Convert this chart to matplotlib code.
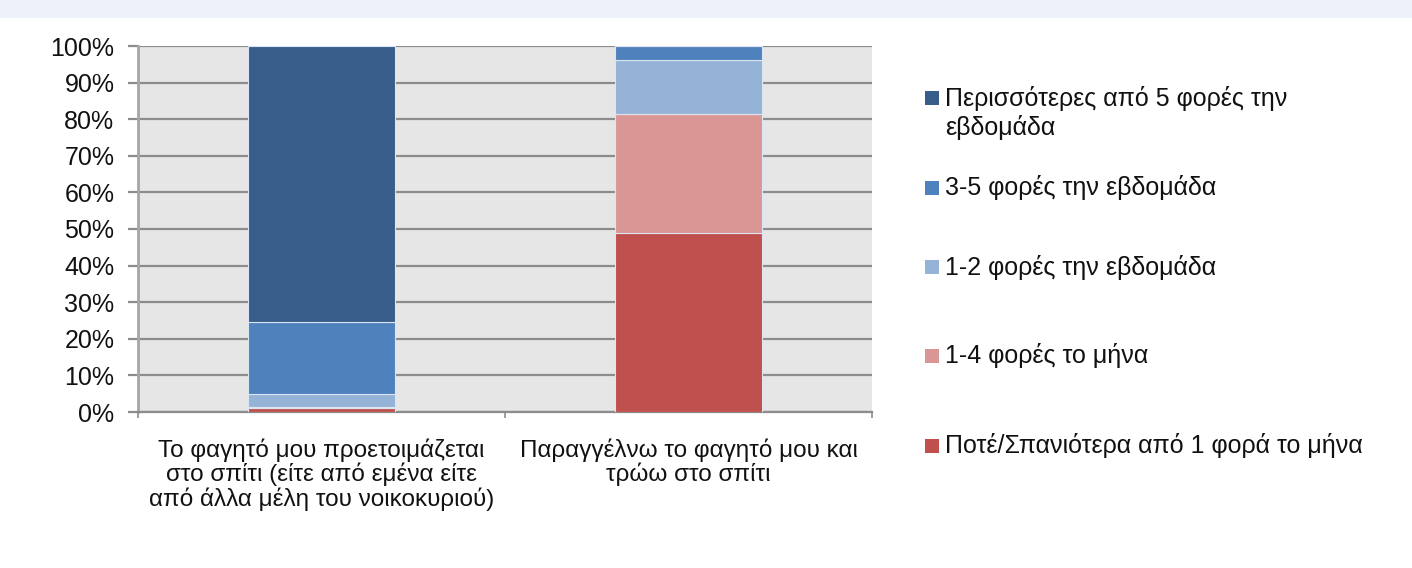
import matplotlib
matplotlib.use("Agg")
import matplotlib.pyplot as plt
from matplotlib.patches import Rectangle
import numpy as np

plt.rcParams['font.family'] = ['Liberation Sans', 'DejaVu Sans']

categories = [
    "Το φαγητό μου προετοιμάζεται\nστο σπίτι (είτε από εμένα είτε\nαπό άλλα μέλη του νοικοκυριού)",
    "Παραγγέλνω το φαγητό μου και\nτρώω στο σπίτι",
]
# stacked bottom -> top
series_labels = [
    "Ποτέ/Σπανιότερα από 1 φορά το μήνα",
    "1-4 φορές το μήνα",
    "1-2 φορές την εβδομάδα",
    "3-5 φορές την εβδομάδα",
    "Περισσότερες από 5 φορές την\nεβδομάδα",
]
never = [1.0, 49.0]
month_1_4 = [0.5, 32.4]
week_1_2 = [3.5, 14.9]
week_3_5 = [19.5, 3.7]
week_5plus = [75.5, 0.0]
series_values = [never, month_1_4, week_1_2, week_3_5, week_5plus]
colors = ["#c0504d", "#d99694", "#95b3d7", "#4f81bd", "#385d8a"]
yticks = [0, 10, 20, 30, 40, 50, 60, 70, 80, 90, 100]
ytick_labels = [f"{v}%" for v in yticks]

W, H = 1412, 568
fig = plt.figure(figsize=(W / 100, H / 100), dpi=100)
fig.patch.set_facecolor("white")
fig.patches.append(Rectangle((0, 1 - 18 / H), 1, 18 / H, transform=fig.transFigure,
                             facecolor="#edf1f9", edgecolor="none", zorder=0))

ax = fig.add_axes([138 / W, (H - 412) / H, (872 - 138) / W, (412 - 46) / H])
ax.set_facecolor("#e6e6e6")

x = np.arange(len(categories))
bottom = np.zeros(len(categories))
for vals, col in zip(series_values, colors):
    v = np.array(vals)
    ax.bar(x, v, bottom=bottom, width=0.4, color=col, edgecolor="#dce6f2",
           linewidth=0.8, zorder=3)
    bottom += v

ax.set_xlim(-0.5, 1.5)
ax.set_ylim(0, 100)
ax.set_yticks(yticks)
ax.set_yticklabels(ytick_labels, fontsize=18, color="#111111")
ax.yaxis.grid(True, color="#8c8c8c", linewidth=1.6, zorder=1)
ax.set_axisbelow(True)
ax.tick_params(axis="y", length=7, width=1.6, color="#8c8c8c", pad=10)

ax.set_xticks(x)
ax.set_xticklabels(categories, fontsize=17.5, color="#111111", linespacing=1.05)
ax.set_xticks([-0.5, 0.5, 1.5], minor=True)
ax.tick_params(axis="x", which="major", length=0, pad=19)
ax.tick_params(axis="x", which="minor", length=4, width=1.2, color="#8c8c8c")

for s in ["top", "right"]:
    ax.spines[s].set_visible(False)
ax.spines["left"].set_color("#a6a6a6")
ax.spines["left"].set_linewidth(2)
ax.spines["bottom"].set_color("#8c8c8c")
ax.spines["bottom"].set_linewidth(1.6)

# legend (top -> bottom order as in the reference)
legend_y = [113, 188, 267, 356, 446]
for lab, col, yc in zip(series_labels[::-1], colors[::-1], legend_y):
    first_line_y = yc - 15 if "\n" in lab else yc
    fig.patches.append(Rectangle((925 / W, 1 - (first_line_y + 7) / H), 14 / W, 14 / H,
                                 transform=fig.transFigure, facecolor=col,
                                 edgecolor="none"))
    fig.text(945 / W, 1 - yc / H, lab, fontsize=18, color="#111111",
             ha="left", va="center", linespacing=1.2)

fig.savefig("out.png", dpi=100)
